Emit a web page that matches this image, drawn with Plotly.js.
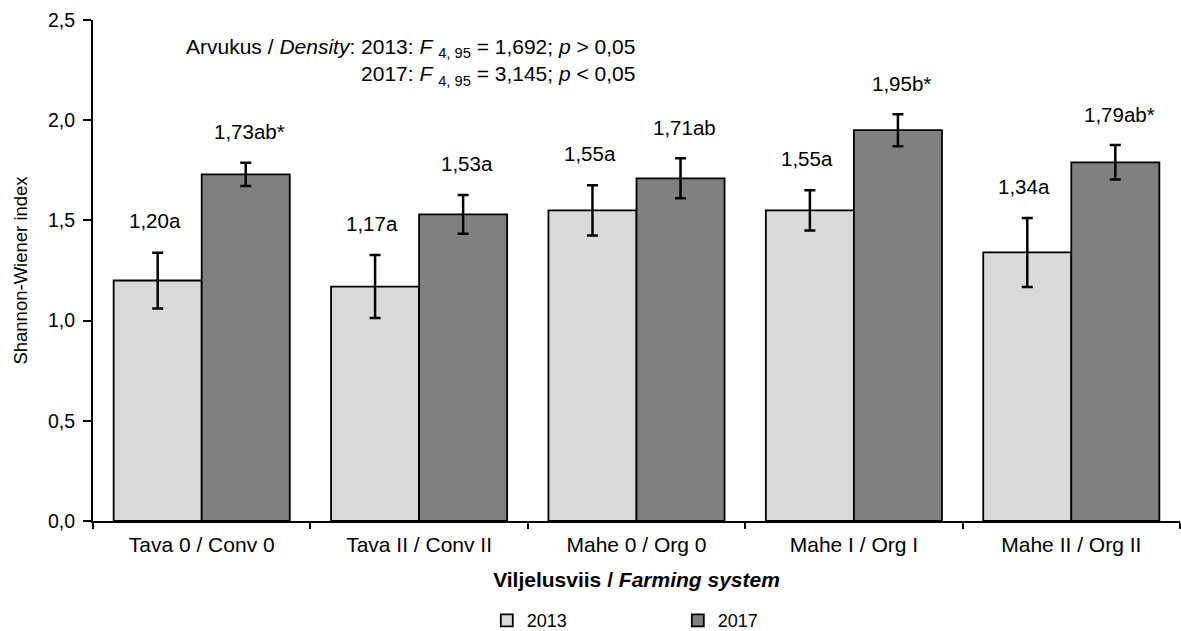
<!DOCTYPE html>
<html>
<head>
<meta charset="utf-8">
<script src="https://cdn.plot.ly/plotly-3.0.1.min.js"></script>
<style>
html,body{margin:0;padding:0;background:#fff;}
#chart{width:1181px;height:631px;}
</style>
</head>
<body>
<div id="chart"></div>
<script>
const categories = ["Tava 0 / Conv 0", "Tava II / Conv II", "Mahe 0 / Org 0", "Mahe I / Org I", "Mahe II / Org II"];
const values2013 = [1.20, 1.17, 1.55, 1.55, 1.34];
const values2017 = [1.73, 1.53, 1.71, 1.95, 1.79];
const err2013 = [0.139, 0.157, 0.125, 0.100, 0.172];
const err2017 = [0.058, 0.097, 0.100, 0.080, 0.086];
const labels2013 = ["1,20a", "1,17a", "1,55a", "1,55a", "1,34a"];
const labels2017 = ["1,73ab*", "1,53a", "1,71ab", "1,95b*", "1,79ab*"];
const yTicks = [0, 0.5, 1.0, 1.5, 2.0, 2.5];
const yTickText = ["0,0", "0,5", "1,0", "1,5", "2,0", "2,5"];

const FONT = "Liberation Sans, Arial, sans-serif";

const errStyle = {type: "data", visible: true, color: "#000", thickness: 2.5, width: 5.5};

const traces = [
  {
    type: "bar", name: "2013", x: categories, y: values2013,
    marker: {color: "#d9d9d9", line: {color: "#000", width: 1.8}},
    error_y: Object.assign({array: err2013}, errStyle),
    hoverinfo: "skip"
  },
  {
    type: "bar", name: "2017", x: categories, y: values2017,
    marker: {color: "#808080", line: {color: "#000", width: 1.8}},
    error_y: Object.assign({array: err2017}, errStyle),
    hoverinfo: "skip"
  }
];

const annotations = [];
categories.forEach((c, i) => {
  annotations.push({x: c, y: values2013[i] + err2013[i], xref: "x", yref: "y",
    text: labels2013[i], showarrow: false, xshift: -47, yshift: 32,
    yanchor: "middle", font: {family: FONT, size: 20.5, color: "#000"}});
  annotations.push({x: c, y: values2017[i] + err2017[i], xref: "x", yref: "y",
    text: labels2017[i], showarrow: false, xshift: 48, yshift: 31,
    yanchor: "middle", font: {family: FONT, size: 20.5, color: "#000"}});
});
annotations.push({
  xref: "paper", yref: "paper", x: 0.5, y: 1 - (62 - 20) / 501, xanchor: "right", yanchor: "middle",
  align: "right", showarrow: false,
  text: "Arvukus / <i>Density</i>: 2013: <i>F</i> <sub>4, 95</sub> = 1,692; <i>p</i> > 0,05<br>2017: <i>F</i> <sub>4, 95</sub> = 3,145; <i>p</i> < 0,05",
  font: {family: FONT, size: 21, color: "#000"}
});

const layout = {
  width: 1181, height: 631,
  margin: {l: 93, r: 1, t: 20, b: 110, autoexpand: false},
  paper_bgcolor: "#fff", plot_bgcolor: "#fff",
  font: {family: FONT, size: 20, color: "#000"},
  barmode: "group", bargap: 0.19, bargroupgap: 0,
  showlegend: true,
  legend: {orientation: "h", x: 0.538, xanchor: "center", y: -0.162, yanchor: "top",
    font: {family: FONT, size: 18, color: "#000"}, entrywidth: 146, itemwidth: 30},
  xaxis: {
    type: "category", showline: true, linecolor: "#000", linewidth: 2,
    ticks: "outside", tickson: "boundaries", ticklen: 6, tickwidth: 2, tickcolor: "#000",
    ticklabelstandoff: 4,
    showgrid: false, zeroline: false,
    tickfont: {family: FONT, size: 21, color: "#000"},
    title: {text: "<b>Viljelusviis / <i>Farming system</i></b>", standoff: 17,
      font: {family: FONT, size: 21, color: "#000"}}
  },
  yaxis: {
    range: [0, 2.5], tickvals: yTicks, ticktext: yTickText,
    showline: true, linecolor: "#000", linewidth: 2,
    ticks: "outside", ticklen: 8, tickwidth: 2, tickcolor: "#000",
    ticklabelstandoff: 4,
    showgrid: false, zeroline: false,
    tickfont: {family: FONT, size: 19.5, color: "#000"},
    title: {text: "Shannon-Wiener index", standoff: 16,
      font: {family: FONT, size: 18.5, color: "#000"}}
  },
  annotations: annotations
};

Plotly.newPlot("chart", traces, layout, {displayModeBar: false, staticPlot: true});
</script>
</body>
</html>
